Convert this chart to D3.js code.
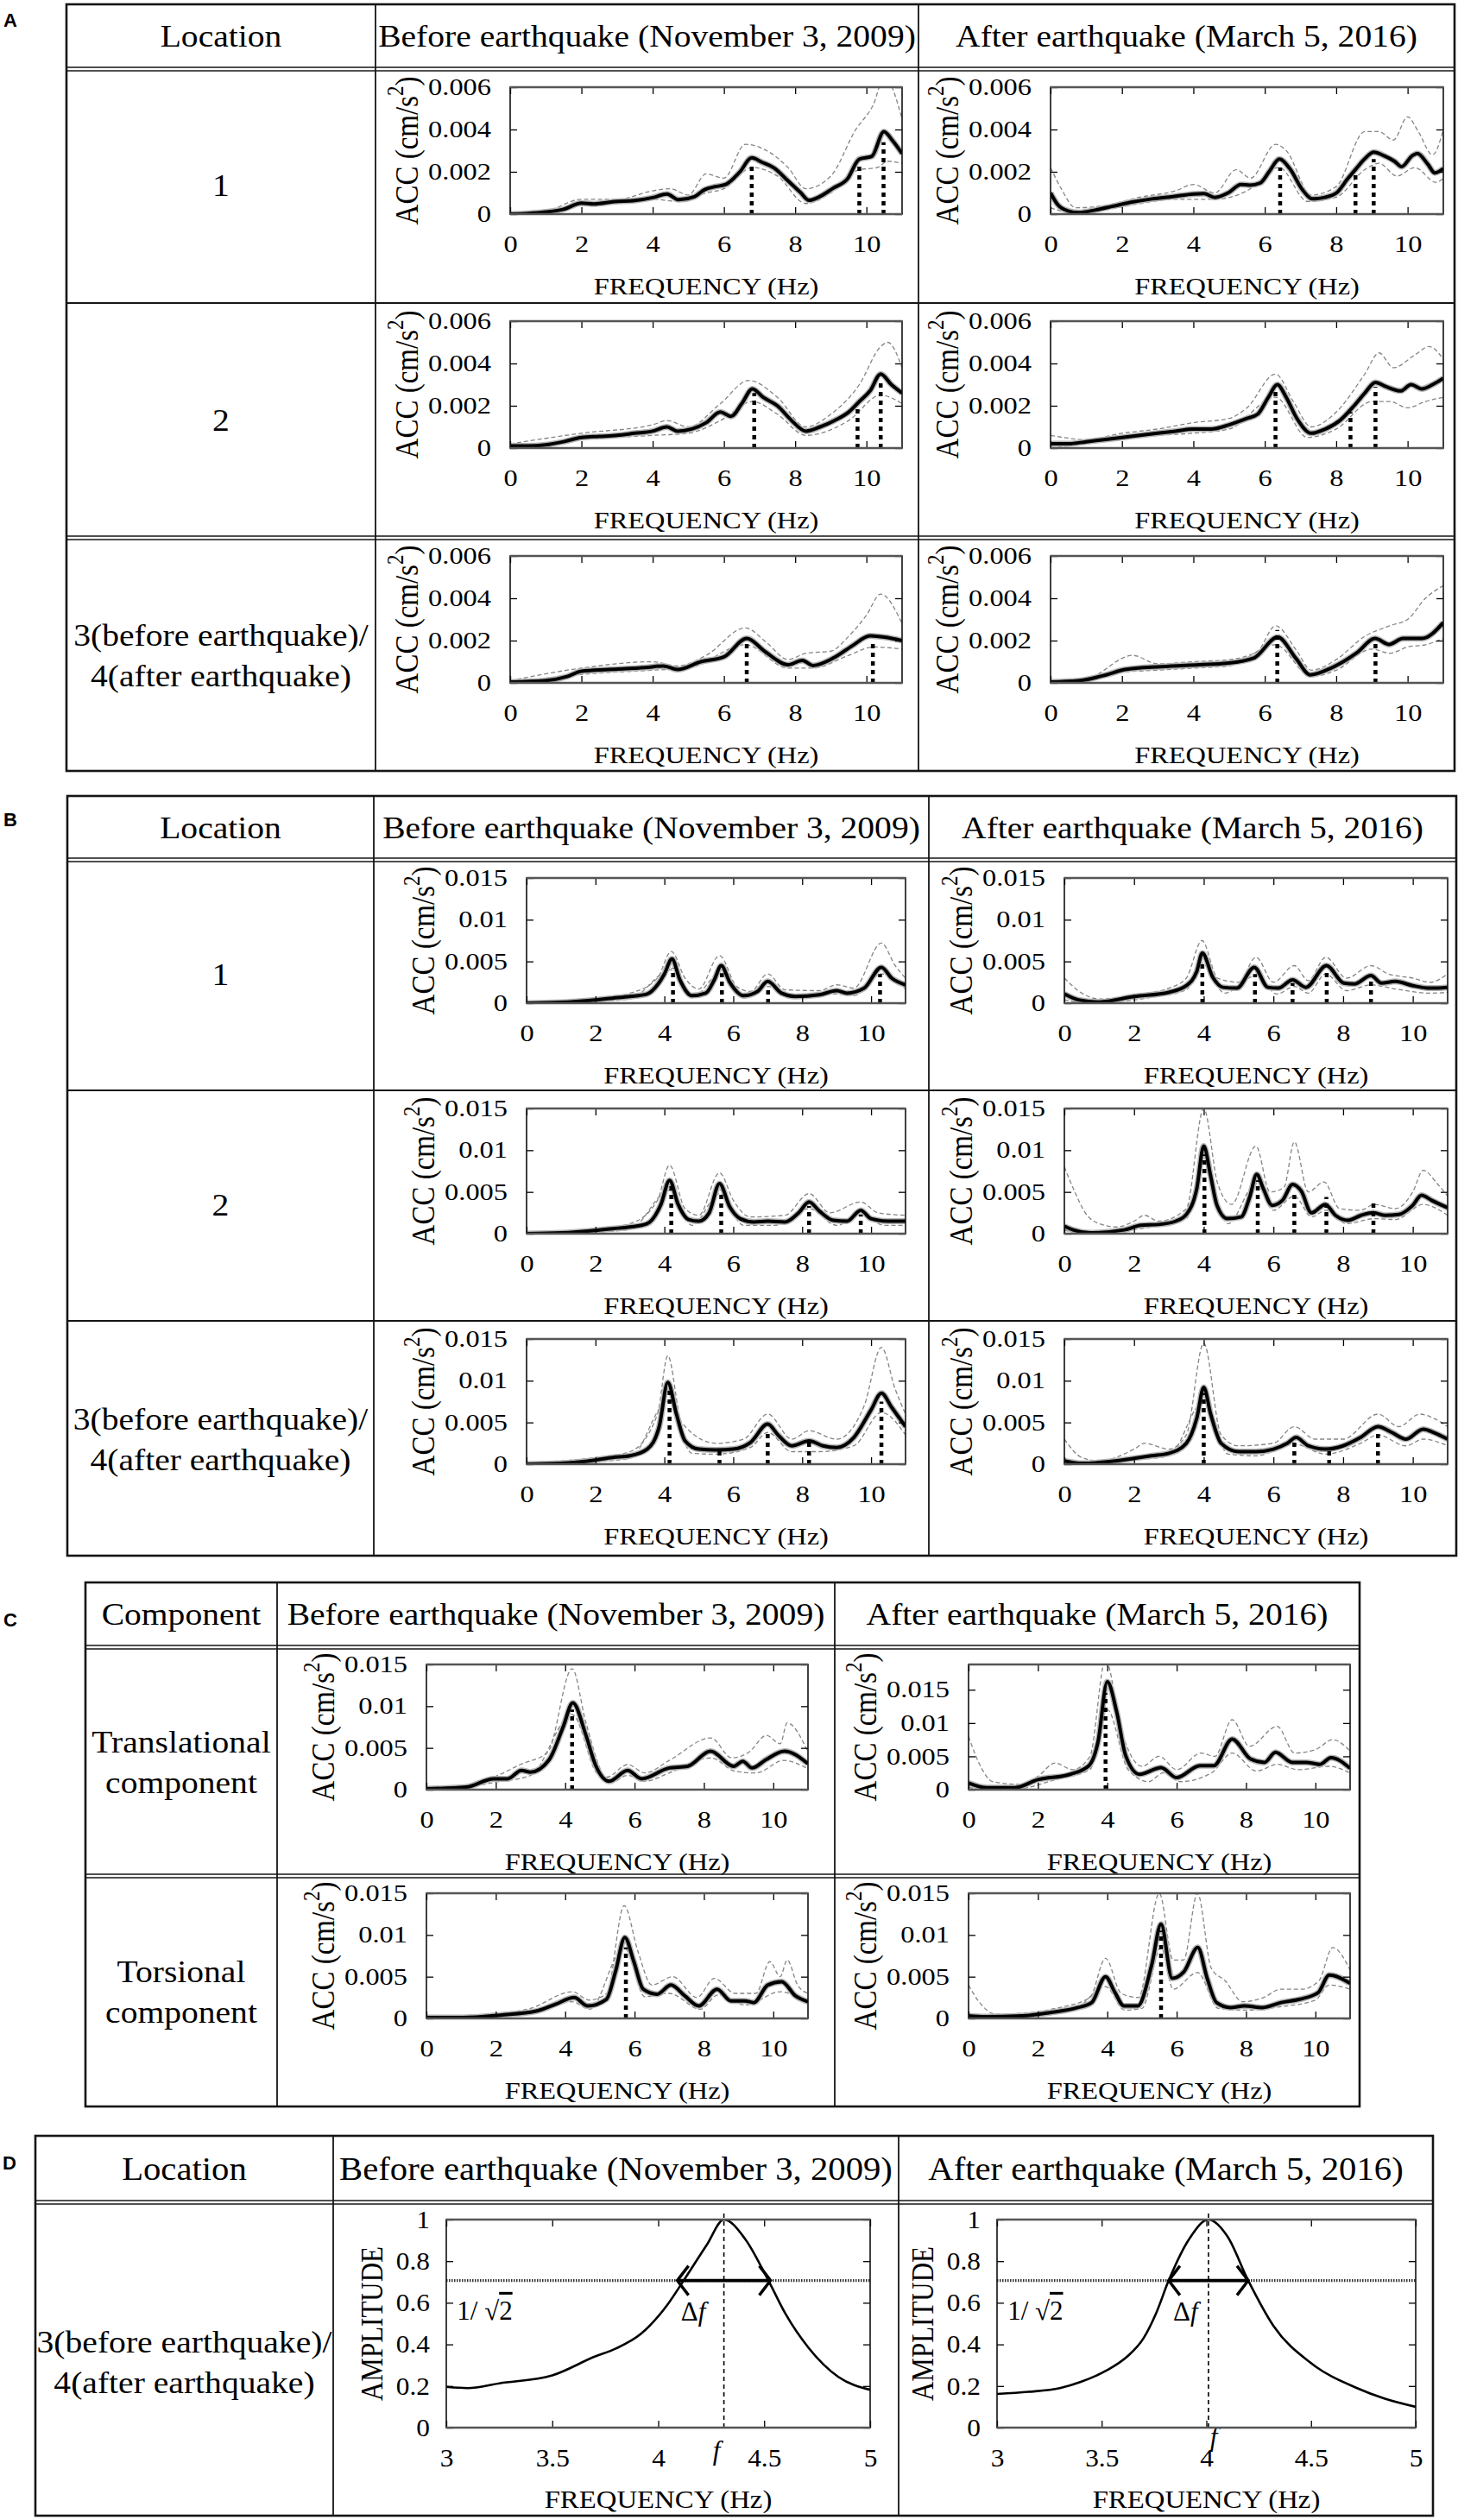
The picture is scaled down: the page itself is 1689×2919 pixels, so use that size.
<!DOCTYPE html>
<html><head><meta charset="utf-8">
<script src="https://cdn.jsdelivr.net/npm/d3@7"></script>
<style>body{margin:0;background:#fff}svg{display:block}</style>
</head><body>
<script>
// ---------- text ----------
const COL_HEADERS = ["Before earthquake (November 3, 2009)", "After earthquake (March 5, 2016)"];
const LOCATION_HEADER = "Location";
const COMPONENT_HEADER = "Component";
const ROW_LABELS_AB = [["1"], ["2"], ["3(before earthquake)/", "4(after earthquake)"]];
const ROW_LABELS_C = [["Translational", "component"], ["Torsional", "component"]];
const ROW_LABELS_D = [["3(before earthquake)/", "4(after earthquake)"]];
const X_TITLE = "FREQUENCY (Hz)";
const AMP_TITLE = "AMPLITUDE";

// ---------- ticks ----------
const FREQ_TICKS = [0, 2, 4, 6, 8, 10];
const FREQ_TICK_LABELS = ["0", "2", "4", "6", "8", "10"];
const ACC_A_TICKS = [0, 0.002, 0.004, 0.006];
const ACC_A_LABELS = ["0", "0.002", "0.004", "0.006"];
const ACC_B_TICKS = [0, 0.005, 0.01, 0.015];
const ACC_B_LABELS = ["0", "0.005", "0.01", "0.015"];
const AMP_TICKS = [0, 0.2, 0.4, 0.6, 0.8, 1];
const AMP_LABELS = ["0", "0.2", "0.4", "0.6", "0.8", "1"];
const AMP_F_TICKS = [3, 3.5, 4, 4.5, 5];
const AMP_F_LABELS = ["3", "3.5", "4", "4.5", "5"];

// ---------- Panel A : mean spectra, grey envelope (upper / lower), identified peaks ----------
const a1bMean = [[0,0],[0.5,0.00003],[1,0.0001],[1.5,0.00023],[2,0.00052],[2.35,0.00048],[2.93,0.00059],[3.5,0.00064],[4,0.00078],[4.4,0.00095],[4.73,0.00068],[5.17,0.00082],[5.46,0.00116],[5.76,0.0013],[6.05,0.0014],[6.44,0.00198],[6.78,0.00266],[7.07,0.00245],[7.41,0.00218],[7.8,0.00157],[8.15,0.00102],[8.39,0.00065],[8.68,0.00082],[9.07,0.00123],[9.46,0.00165],[9.8,0.0026],[10.15,0.00273],[10.49,0.0039],[10.73,0.00348],[11,0.00286]];
const a1bHi = [[0,0.00005],[1,0.00015],[2,0.0007],[3,0.0007],[4,0.0011],[4.5,0.0012],[5,0.0009],[5.5,0.0019],[6,0.0017],[6.6,0.0033],[7.2,0.003],[7.8,0.0022],[8.3,0.0012],[9,0.0018],[9.7,0.004],[10.2,0.0052],[10.5,0.0065],[11,0.0045]];
const a1bLo = [[0,0],[1,0.00005],[2,0.0004],[3,0.0005],[4,0.0007],[4.7,0.0006],[5.5,0.001],[6,0.0012],[6.8,0.0022],[7.5,0.0018],[8.3,0.0005],[9,0.001],[9.8,0.0021],[10.3,0.0022],[10.6,0.0025],[11,0.0024]];
const a1bPeaks = [[6.78,0.0024],[9.8,0.00225],[10.48,0.0034]];

const a1aMean = [[0,0.001],[0.2,0.00045],[0.49,0.00015],[0.78,0.00007],[1.27,0.0002],[1.76,0.00038],[2.25,0.00056],[2.84,0.00072],[3.42,0.00083],[4.01,0.00095],[4.3,0.00097],[4.6,0.00079],[4.99,0.00102],[5.33,0.0014],[5.58,0.00137],[5.87,0.00147],[6.12,0.002],[6.41,0.0026],[6.7,0.00215],[7.05,0.00116],[7.34,0.00072],[7.68,0.00079],[8.02,0.00102],[8.32,0.00167],[8.56,0.00215],[8.81,0.00263],[9.05,0.00293],[9.34,0.00276],[9.64,0.00249],[9.83,0.00224],[10.13,0.00276],[10.27,0.00287],[10.57,0.00235],[10.76,0.00195],[11,0.00215]];
const a1aHi = [[0,0.0022],[0.3,0.0012],[0.7,0.0003],[1.5,0.0004],[2.5,0.0008],[3.5,0.0011],[4,0.0014],[4.6,0.001],[5.2,0.0021],[5.6,0.0017],[6.3,0.0033],[6.6,0.003],[7.3,0.0009],[8,0.0013],[8.8,0.0039],[9.2,0.0039],[9.6,0.0035],[10,0.0046],[10.3,0.0039],[10.7,0.0028],[11,0.004]];
const a1aLo = [[0,0.0003],[0.5,0.0001],[1.5,0.0002],[2.5,0.0005],[3.5,0.0007],[4.6,0.0007],[5.5,0.0011],[6.4,0.0022],[7.2,0.0006],[8,0.0008],[8.8,0.0021],[9.2,0.0024],[9.7,0.0018],[10.2,0.0022],[10.8,0.0015],[11,0.0017]];
const a1aPeaks = [[6.43,0.0022],[8.54,0.002],[9.05,0.0026]];

const a2bMean = [[0,0.0001],[0.5,0.0001],[1,0.00015],[1.5,0.0003],[2,0.0005],[2.5,0.00055],[3,0.0006],[3.5,0.0007],[4,0.0008],[4.4,0.001],[4.7,0.0008],[5.1,0.0009],[5.5,0.0012],[5.9,0.0017],[6.2,0.0015],[6.5,0.0021],[6.8,0.0028],[7.1,0.0024],[7.5,0.002],[7.9,0.0013],[8.3,0.0008],[8.7,0.001],[9.1,0.0013],[9.5,0.0017],[9.8,0.0022],[10.1,0.0027],[10.4,0.0035],[10.7,0.003],[11,0.0026]];
const a2bHi = [[0,0.0002],[2,0.0007],[4,0.0011],[4.4,0.0013],[5,0.001],[5.9,0.0021],[6.7,0.0032],[7.5,0.0024],[8.3,0.001],[9,0.0016],[9.8,0.003],[10.4,0.0048],[10.6,0.005],[11,0.0038]];
const a2bLo = [[0,0],[2,0.0004],[4,0.0006],[5,0.0007],[5.9,0.0013],[6.8,0.0022],[7.5,0.0016],[8.3,0.0006],[9.5,0.0013],[10.4,0.0025],[11,0.0021]];
const a2bPeaks = [[6.85,0.0026],[9.75,0.0019],[10.4,0.0032]];

const a2aMean = [[0,0.0002],[0.5,0.0002],[1,0.0003],[1.5,0.0004],[2,0.0005],[2.5,0.0006],[3,0.0007],[3.5,0.0008],[4,0.0009],[4.5,0.0009],[5,0.0011],[5.5,0.0014],[5.8,0.0016],[6.1,0.0024],[6.35,0.003],[6.6,0.0024],[6.9,0.0014],[7.3,0.0007],[7.7,0.0009],[8.1,0.0013],[8.5,0.002],[8.8,0.0026],[9.1,0.0031],[9.4,0.0029],[9.8,0.0027],[10.1,0.003],[10.4,0.0028],[10.7,0.003],[11,0.0033]];
const a2aHi = [[0,0.0006],[1,0.0004],[2,0.0007],[3,0.0009],[4,0.0012],[5,0.0014],[5.5,0.0019],[6.3,0.0035],[6.8,0.0022],[7.3,0.001],[8,0.0017],[8.8,0.0035],[9.2,0.0045],[9.6,0.0038],[10.2,0.0044],[10.6,0.0048],[11,0.0042]];
const a2aLo = [[0,0],[1,0.0002],[2,0.0004],[3,0.0006],[4,0.0007],[5,0.0009],[6.3,0.0024],[7.2,0.0005],[8,0.0009],[9,0.0022],[9.5,0.0022],[10,0.0019],[10.5,0.0022],[11,0.0024]];
const a2aPeaks = [[6.3,0.0028],[8.4,0.0017],[9.1,0.0029]];

const a3bMean = [[0,0.00004],[0.96,0.0001],[1.6,0.0003],[2,0.00055],[2.76,0.00063],[3.8,0.00072],[4.3,0.0008],[4.7,0.00063],[5.35,0.001],[6,0.00123],[6.64,0.0021],[7.16,0.00147],[7.8,0.00086],[8.2,0.00106],[8.5,0.00082],[9.1,0.0012],[9.6,0.00175],[10.1,0.00222],[10.5,0.00216],[11,0.002]];
const a3bHi = [[0,0.0001],[2,0.0007],[4,0.001],[4.7,0.0008],[5.5,0.0013],[6.6,0.0026],[7.2,0.0019],[7.8,0.0011],[8.3,0.0014],[9,0.0015],[9.5,0.0022],[10,0.0032],[10.4,0.0042],[11,0.0028]];
const a3bLo = [[0,0],[2,0.0004],[4,0.0006],[5,0.0007],[6.6,0.0018],[7.8,0.0007],[8.5,0.0007],[9.5,0.0013],[10.2,0.0017],[11,0.0016]];
const a3bPeaks = [[6.64,0.002],[10.18,0.002]];

const a3aMean = [[0,0.00004],[0.78,0.0001],[1.56,0.00038],[2.08,0.00063],[3.1,0.00077],[4.16,0.00086],[4.94,0.00093],[5.7,0.00118],[6.36,0.00216],[6.88,0.00114],[7.27,0.00038],[7.8,0.00066],[8.57,0.00141],[9.09,0.0021],[9.48,0.00182],[9.87,0.0021],[10.4,0.0021],[11,0.00285]];
const a3aHi = [[0,0.0001],[1,0.0002],[2.3,0.0013],[3,0.0009],[4,0.001],[5,0.0011],[5.8,0.0015],[6.3,0.0027],[6.9,0.0015],[7.3,0.0006],[8,0.0011],[8.8,0.0022],[9.5,0.0027],[10,0.003],[10.5,0.004],[11,0.0046]];
const a3aLo = [[0,0],[1,0.0001],[2,0.0005],[3,0.0006],[4,0.0007],[5,0.0008],[6.3,0.0018],[7.3,0.0003],[8,0.0006],[9,0.0016],[9.5,0.0014],[10,0.0017],[10.5,0.0018],[11,0.0021]];
const a3aPeaks = [[6.35,0.0025],[9.1,0.0019]];

// ---------- Panel B ----------
const b1bMean = [[0,0],[1,0.0001],[2,0.0004],[2.5,0.0006],[3,0.0008],[3.5,0.0011],[3.8,0.0022],[4.0,0.0035],[4.22,0.0053],[4.45,0.0028],[4.8,0.0009],[5.2,0.0012],[5.45,0.0028],[5.65,0.0045],[5.9,0.0025],[6.3,0.0009],[6.7,0.0014],[7.0,0.0026],[7.4,0.0012],[7.8,0.0008],[8.5,0.001],[9.0,0.0015],[9.3,0.0012],[9.8,0.0018],[10.3,0.0043],[10.6,0.003],[11,0.0022]];
const b1bHi = [[0,0.0002],[2,0.0006],[3,0.0012],[3.8,0.003],[4.2,0.0062],[4.6,0.003],[5,0.0017],[5.6,0.0057],[6.1,0.002],[6.5,0.0014],[7,0.0035],[7.5,0.0016],[8.5,0.0015],[9,0.0022],[9.5,0.0018],[10.3,0.0072],[10.7,0.0045],[11,0.003]];
const b1bLo = [[0,0],[2,0.0002],[3,0.0005],[4.2,0.004],[4.8,0.0006],[5.6,0.0035],[6.3,0.0006],[7,0.002],[7.8,0.0006],[9,0.0011],[9.5,0.0009],[10.3,0.0035],[11,0.0017]];
const b1bPeaks = [[4.25,0.0042],[5.67,0.0036],[7.01,0.002],[10.26,0.0035]];

const b1aMean = [[0,0.0011],[0.4,0.0004],[1,0.00014],[2,0.0008],[3,0.0013],[3.5,0.0021],[3.8,0.0038],[3.96,0.006],[4.26,0.0031],[4.55,0.0019],[4.95,0.0018],[5.45,0.0043],[5.84,0.0019],[6.14,0.0018],[6.55,0.0028],[6.93,0.0019],[7.52,0.0045],[8.02,0.0024],[8.32,0.0023],[8.8,0.0033],[9.1,0.0024],[9.5,0.0026],[10,0.0021],[10.5,0.0018],[11,0.0019]];
const b1aHi = [[0,0.003],[0.5,0.0012],[1,0.0005],[2,0.001],[3,0.0018],[3.5,0.003],[3.95,0.0075],[4.4,0.003],[5,0.0025],[5.5,0.0055],[6,0.0025],[6.6,0.0045],[7,0.0027],[7.5,0.0055],[8.1,0.003],[8.8,0.0045],[9.3,0.0035],[10,0.003],[10.5,0.0025],[11,0.0035]];
const b1aLo = [[0,0.0004],[0.5,0.0001],[1.5,0.0002],[2.5,0.0007],[3.5,0.0016],[3.95,0.0048],[4.6,0.0012],[5.5,0.0033],[6.1,0.0011],[6.6,0.002],[7,0.0012],[7.5,0.0035],[8.1,0.0015],[8.8,0.0022],[9.5,0.0017],[10.5,0.0012],[11,0.0013]];
const b1aPeaks = [[3.96,0.005],[5.47,0.0035],[6.55,0.0024],[7.53,0.004],[8.8,0.0028]];

const b2bMean = [[0,0],[1,0.0001],[2,0.0004],[2.5,0.0006],[3,0.0008],[3.5,0.0012],[3.9,0.0035],[4.15,0.0064],[4.4,0.0035],[4.7,0.0017],[5.0,0.0015],[5.3,0.0025],[5.6,0.006],[5.9,0.0032],[6.2,0.0018],[6.6,0.0014],[7,0.0015],[7.5,0.0014],[7.9,0.0025],[8.2,0.0038],[8.5,0.0027],[8.9,0.0016],[9.3,0.0015],[9.7,0.0028],[10,0.0018],[10.5,0.0015],[11,0.0015]];
const b2bHi = [[0,0.0002],[2,0.0006],[3,0.0012],[3.8,0.004],[4.15,0.0082],[4.6,0.003],[5,0.0022],[5.6,0.0073],[6,0.004],[6.5,0.002],[7.5,0.0022],[8.2,0.0048],[8.8,0.0025],[9.7,0.0038],[10.2,0.0025],[11,0.0022]];
const b2bLo = [[0,0],[2,0.0002],[3,0.0005],[4.15,0.0052],[4.8,0.001],[5.6,0.0048],[6.3,0.001],[7.2,0.001],[8.2,0.003],[9,0.001],[9.7,0.0021],[10.4,0.001],[11,0.001]];
const b2bPeaks = [[4.2,0.0058],[5.65,0.0052],[8.2,0.0033],[9.7,0.0023]];

const b2aMean = [[0,0.0009],[0.25,0.00045],[0.74,0.0001],[1.72,0.00045],[2.2,0.001],[2.7,0.0011],[3.2,0.0015],[3.5,0.0023],[3.8,0.0054],[4.0,0.0105],[4.19,0.0071],[4.38,0.0034],[4.68,0.0018],[5.07,0.002],[5.32,0.0044],[5.52,0.0071],[5.71,0.0054],[5.96,0.0034],[6.26,0.004],[6.55,0.0059],[6.8,0.0051],[7.09,0.0025],[7.49,0.0035],[7.78,0.0022],[8.13,0.0016],[8.52,0.0022],[8.87,0.0025],[9.21,0.0022],[9.6,0.0023],[10.0,0.0034],[10.25,0.0046],[10.54,0.004],[11,0.0031]];
const b2aHi = [[0,0.008],[0.3,0.005],[0.6,0.0025],[1,0.0012],[1.5,0.0008],[2,0.0015],[2.3,0.0022],[2.7,0.0015],[3.5,0.003],[4.0,0.015],[4.4,0.006],[4.8,0.0035],[5.5,0.0105],[5.9,0.005],[6.3,0.0055],[6.6,0.011],[7,0.005],[7.45,0.0062],[7.9,0.003],[8.5,0.0028],[8.9,0.0035],[9.5,0.003],[10,0.005],[10.3,0.0076],[10.7,0.006],[11,0.0045]];
const b2aLo = [[0,0.0004],[0.5,0.0001],[1.5,0.0003],[2.5,0.0008],[3.5,0.0018],[4.0,0.0085],[4.7,0.0012],[5.5,0.006],[6,0.0028],[6.6,0.0045],[7.1,0.002],[7.5,0.0028],[8.1,0.0012],[8.9,0.0018],[9.5,0.0017],[10.3,0.0035],[11,0.0022]];
const b2aPeaks = [[4.02,0.0095],[5.55,0.0064],[6.6,0.0051],[7.52,0.0044],[8.87,0.0039]];

const b3bMean = [[0,0],[1,0.0001],[2,0.0005],[2.5,0.0008],[3,0.001],[3.5,0.0018],[3.85,0.0045],[4.1,0.0098],[4.35,0.006],[4.6,0.0028],[5,0.0018],[5.5,0.0017],[6,0.0018],[6.5,0.0026],[7,0.0048],[7.3,0.0035],[7.7,0.0022],[8.2,0.0028],[8.6,0.0022],[9,0.002],[9.5,0.0032],[10,0.0065],[10.3,0.0085],[10.6,0.0068],[11,0.0045]];
const b3bHi = [[0,0.0002],[2,0.0008],[3,0.0015],[3.8,0.006],[4.1,0.013],[4.5,0.005],[5.5,0.0025],[6.3,0.003],[7,0.006],[7.7,0.003],[8.2,0.004],[9,0.003],[9.8,0.007],[10.3,0.014],[10.7,0.009],[11,0.006]];
const b3bLo = [[0,0],[2,0.0003],[3,0.0007],[4.1,0.0075],[4.8,0.0013],[5.5,0.0012],[6.5,0.002],[7,0.0038],[7.7,0.0015],[8.5,0.0015],[9.5,0.0022],[10.3,0.0062],[11,0.0035]];
const b3bPeaks = [[4.15,0.009],[5.6,0.0016],[7.0,0.004],[8.2,0.0026],[10.3,0.0075]];

const b3aMean = [[0,0.0004],[0.5,0.0001],[1,0.0002],[2,0.0007],[2.5,0.001],[3,0.0013],[3.5,0.0025],[3.8,0.0055],[4.0,0.0092],[4.2,0.006],[4.5,0.0025],[5,0.0015],[5.5,0.0015],[6,0.0018],[6.4,0.0025],[6.65,0.0032],[7,0.0022],[7.5,0.0018],[8,0.0022],[8.5,0.0032],[9,0.0045],[9.4,0.0038],[9.8,0.003],[10.3,0.0042],[10.6,0.0038],[11,0.003]];
const b3aHi = [[0,0.003],[0.5,0.0008],[1,0.0004],[2,0.0018],[2.3,0.0025],[3,0.0018],[3.5,0.0035],[4.0,0.0145],[4.5,0.0035],[5,0.0022],[6,0.0025],[6.6,0.0045],[7.2,0.003],[8,0.003],[9,0.006],[9.6,0.0045],[10.2,0.006],[10.6,0.0055],[11,0.0045]];
const b3aLo = [[0,0.0001],[1,0.0001],[2,0.0005],[3,0.001],[4,0.0075],[4.7,0.0012],[5.5,0.001],[6.6,0.0024],[7.5,0.0012],[8.5,0.0025],[9,0.0035],[9.8,0.0022],[10.3,0.003],[11,0.0022]];
const b3aPeaks = [[4.0,0.0085],[6.6,0.0028],[7.6,0.0016],[9.0,0.004]];

// ---------- Panel C ----------
const c1bMean = [[0,0.0001],[1.14,0.0003],[1.94,0.0013],[2.34,0.0013],[2.74,0.0023],[3.0,0.0021],[3.54,0.0036],[3.94,0.0075],[4.22,0.0104],[4.6,0.0065],[4.87,0.003],[5.27,0.001],[5.8,0.0023],[6.2,0.0013],[7.0,0.0026],[7.53,0.0028],[8.19,0.0046],[8.86,0.0028],[9.12,0.0034],[9.39,0.0026],[9.79,0.0036],[10.32,0.0046],[11,0.0031]];
const c1bHi = [[0,0.0002],[1,0.0004],[2,0.0016],[2.7,0.003],[3.5,0.0045],[4.2,0.0145],[4.6,0.008],[5.2,0.0015],[5.8,0.003],[6.3,0.002],[7,0.0035],[8.2,0.0062],[8.8,0.0038],[9.3,0.0045],[9.8,0.0065],[10.2,0.0055],[10.4,0.008],[11,0.0045]];
const c1bLo = [[0,0],[1,0.0002],[2,0.0009],[3,0.0017],[4.2,0.009],[4.9,0.002],[5.3,0.0008],[5.8,0.0017],[6.3,0.001],[7,0.002],[8.2,0.0038],[8.9,0.0022],[9.5,0.002],[10.3,0.0035],[11,0.0025]];
const c1bPeaks = [[4.2,0.0096]];

const c1aMean = [[0,0.001],[0.53,0.0003],[1.33,0.0003],[2.0,0.0015],[2.93,0.0023],[3.47,0.0036],[3.73,0.0071],[4.0,0.0162],[4.27,0.0117],[4.53,0.0051],[4.93,0.0023],[5.55,0.0033],[6.0,0.0018],[6.67,0.0036],[7.07,0.0036],[7.6,0.0076],[8.13,0.0046],[8.53,0.0041],[8.85,0.0056],[9.33,0.0041],[9.73,0.0041],[10.13,0.0038],[10.45,0.0048],[11,0.0032]];
const c1aHi = [[0,0.008],[0.3,0.004],[0.7,0.0012],[1.5,0.0008],[2,0.002],[2.5,0.004],[3,0.003],[3.5,0.005],[3.95,0.0195],[4.4,0.009],[5,0.0035],[5.5,0.005],[6,0.003],[6.7,0.0055],[7.1,0.005],[7.6,0.0105],[8.1,0.0065],[8.9,0.0095],[9.4,0.0055],[10,0.006],[10.5,0.0075],[11,0.0058]];
const c1aLo = [[0,0.0003],[0.5,0.0001],[1.5,0.0002],[2.5,0.0015],[3.5,0.003],[4,0.012],[4.6,0.003],[5.2,0.0012],[5.6,0.0025],[6.1,0.0012],[7,0.0025],[7.6,0.0055],[8.3,0.0028],[8.9,0.0038],[9.5,0.003],[10.4,0.0035],[11,0.0025]];
const c1aPeaks = [[3.95,0.0145]];

const c2bMean = [[0,0.0001],[1.06,0.0001],[2.13,0.0004],[3.19,0.0009],[3.72,0.0017],[4.26,0.0025],[4.65,0.0015],[5.19,0.0023],[5.45,0.0056],[5.72,0.0097],[5.98,0.0068],[6.25,0.0035],[6.65,0.0029],[7.05,0.004],[7.45,0.0027],[7.85,0.0015],[8.38,0.0035],[8.78,0.0021],[9.18,0.0021],[9.44,0.0019],[9.84,0.004],[10.24,0.0044],[10.64,0.0027],[11,0.002]];
const c2bHi = [[0,0.0002],[2,0.0006],[3,0.0012],[4.2,0.0032],[4.7,0.0022],[5.2,0.003],[5.7,0.0135],[6.1,0.008],[6.5,0.004],[7.1,0.005],[7.8,0.0025],[8.3,0.0048],[8.9,0.003],[9.5,0.003],[9.9,0.0068],[10.2,0.005],[10.4,0.007],[10.7,0.004],[11,0.003]];
const c2bLo = [[0,0],[2,0.0002],[3,0.0006],[4.2,0.002],[4.7,0.0011],[5.7,0.0085],[6.3,0.0026],[7,0.003],[7.9,0.0011],[8.4,0.0028],[9.2,0.0016],[10.2,0.0032],[11,0.0017]];
const c2bPeaks = [[5.75,0.0085]];

const c2aMean = [[0,0.0003],[0.48,0.0002],[1.55,0.0003],[2.35,0.0007],[3.15,0.0013],[3.55,0.0019],[3.95,0.005],[4.21,0.0032],[4.48,0.0015],[4.88,0.0015],[5.28,0.0064],[5.55,0.0113],[5.87,0.0048],[6.21,0.0056],[6.61,0.0085],[6.88,0.0048],[7.15,0.0019],[7.55,0.0013],[7.95,0.0015],[8.48,0.0013],[9.01,0.0019],[9.55,0.0023],[10.08,0.0031],[10.4,0.0052],[11,0.0042]];
const c2aHi = [[0,0.004],[0.3,0.002],[0.8,0.0005],[1.5,0.0006],[2.5,0.0012],[3.5,0.0025],[3.95,0.0072],[4.4,0.003],[4.9,0.0025],[5.5,0.015],[5.9,0.007],[6.2,0.007],[6.6,0.015],[7,0.006],[7.4,0.0045],[7.9,0.002],[8.5,0.0025],[9,0.0035],[9.6,0.0035],[10.1,0.0045],[10.5,0.0085],[11,0.0058]];
const c2aLo = [[0,0.0001],[1,0.0001],[2,0.0004],[3,0.0009],[3.95,0.0038],[4.5,0.001],[5,0.0012],[5.55,0.0085],[5.9,0.0035],[6.6,0.0055],[7.2,0.0012],[8,0.001],[9,0.0014],[10,0.0022],[10.4,0.004],[11,0.0035]];
const c2aPeaks = [[5.55,0.0105]];

// ---------- Panel D : normalised amplitude around the first mode ----------
const dBeforeAmp = [[3.0,0.196],[3.1,0.19],[3.25,0.213],[3.5,0.251],[3.7,0.341],[3.8,0.38],[3.92,0.452],[4.05,0.6],[4.12,0.707],[4.23,0.88],[4.31,1.0],[4.41,0.907],[4.52,0.707],[4.6,0.548],[4.71,0.383],[4.85,0.244],[5.0,0.182]];
const dAfterAmp = [[3.0,0.162],[3.15,0.172],[3.3,0.19],[3.4,0.22],[3.52,0.273],[3.62,0.34],[3.7,0.43],[3.76,0.55],[3.82,0.707],[3.92,0.91],[4.01,1.0],[4.1,0.92],[4.2,0.707],[4.32,0.49],[4.5,0.31],[4.72,0.19],[4.85,0.14],[5.0,0.10]];
const HALF_POWER = 0.707;
const dPeakFreq = [4.31, 4.01];
const dBandwidth = [[4.09, 4.53], [3.82, 4.2]];

// =====================================================================
const SERIF = '"Liberation Serif","Times New Roman",Times,serif';
const SANS = '"Liberation Sans",Arial,Helvetica,sans-serif';
const INK = "#000";
const svg = d3.select("body").append("svg").attr("width", 1689).attr("height", 2919)
  .attr("font-family", SERIF).style("background", "#fff");
let clipN = 0;

function stretchText(sel, s) {
  sel.each(function () {
    const L = this.getComputedTextLength();
    if (L > 0 && s !== 1) {
      this.setAttribute("textLength", (L * s).toFixed(1));
      this.setAttribute("lengthAdjust", "spacingAndGlyphs");
    }
  });
}
function label(x, y, str, fs, sx) {
  const t = svg.append("text").attr("x", x).attr("y", y).attr("text-anchor", "middle")
    .attr("dominant-baseline", "central").attr("font-size", fs).style("font-family", SERIF)
    .attr("fill", INK).text(str);
  stretchText(t, sx);
  return t;
}
function panelLetter(ch, x, y) {
  svg.append("text").attr("x", x).attr("y", y).style("font-family", SANS).attr("font-weight", "bold")
    .attr("font-size", 22).text(ch);
}
function table(cols, rows, dbl) {
  const g = svg.append("g").attr("stroke", "#151515").attr("fill", "none");
  const x0 = cols[0], x1 = cols[cols.length - 1], y0 = rows[0], y1 = rows[rows.length - 1];
  g.append("rect").attr("x", x0).attr("y", y0).attr("width", x1 - x0).attr("height", y1 - y0).attr("stroke-width", 2.6);
  cols.slice(1, -1).forEach(c => g.append("line").attr("x1", c).attr("x2", c).attr("y1", y0).attr("y2", y1).attr("stroke-width", 1.8));
  rows.slice(1, -1).forEach((r, i) => {
    if (dbl[i]) [-2, 2].forEach(o => g.append("line").attr("x1", x0).attr("x2", x1).attr("y1", r + o).attr("y2", r + o).attr("stroke-width", 1.5));
    else g.append("line").attr("x1", x0).attr("x2", x1).attr("y1", r).attr("y2", r).attr("stroke-width", 2);
  });
}

function plot(p) {
  const x = d3.scaleLinear().domain(p.xd).range([p.left, p.left + p.w]);
  const y = d3.scaleLinear().domain(p.yd).range([p.top + p.h, p.top]);
  const g = svg.append("g");
  const id = "clip" + (clipN++);
  g.append("clipPath").attr("id", id).append("rect").attr("x", p.left).attr("y", p.top - 1).attr("width", p.w).attr("height", p.h + 2);
  const line = d3.line().x(d => x(d[0])).y(d => y(d[1])).curve(d3.curveMonotoneX);
  const dg = g.append("g").attr("clip-path", `url(#${id})`);
  (p.grey || []).forEach(s => dg.append("path").attr("d", line(s)).attr("fill", "none")
    .attr("stroke", "#858585").attr("stroke-width", 1.3).attr("stroke-dasharray", "5,3"));
  if (p.extra) p.extra(g, x, y);
  if (p.halo) dg.append("path").attr("d", line(p.mean)).attr("fill", "none").attr("stroke", "#b5b5b5")
    .attr("stroke-width", 7).attr("stroke-linejoin", "round");
  dg.append("path").attr("d", line(p.mean)).attr("fill", "none").attr("stroke", INK)
    .attr("stroke-width", p.mw || 4).attr("stroke-linejoin", "round");
  if (p.peaks) g.append("g").selectAll("line").data(p.peaks).join("line")
    .attr("x1", d => x(d[0])).attr("x2", d => x(d[0])).attr("y1", y(0)).attr("y2", d => y(d[1]))
    .attr("stroke", INK).attr("stroke-width", 4.5).attr("stroke-dasharray", "5,5");

  const styleAxis = (a, withText) => {
    a.select(".domain").remove();
    a.attr("font-family", null).attr("font-size", p.fs);
    a.selectAll(".tick line").attr("stroke-width", 1.3);
    if (withText) {
      a.selectAll("text").attr("fill", INK).style("font-family", SERIF);
      stretchText(a.selectAll("text"), p.sx);
    }
  };
  const bx = g.append("g").attr("transform", `translate(0,${p.top + p.h})`)
    .call(d3.axisBottom(x).tickValues(p.xt).tickFormat((d, i) => p.xtl[i]).tickSizeInner(-8).tickSizeOuter(0).tickPadding(p.xpad || 25));
  styleAxis(bx, true);
  const tx = g.append("g").attr("transform", `translate(0,${p.top})`)
    .call(d3.axisTop(x).tickValues(p.xt).tickFormat("").tickSizeInner(-8).tickSizeOuter(0));
  styleAxis(tx, false);
  const ly = g.append("g").attr("transform", `translate(${p.left},0)`)
    .call(d3.axisLeft(y).tickValues(p.yt).tickFormat((d, i) => p.ytl[i]).tickSizeInner(-8).tickSizeOuter(0).tickPadding(p.ypad || 22));
  styleAxis(ly, true);
  const ry = g.append("g").attr("transform", `translate(${p.left + p.w},0)`)
    .call(d3.axisRight(y).tickValues(p.yt).tickFormat("").tickSizeInner(-8).tickSizeOuter(0));
  styleAxis(ry, false);

  g.append("rect").attr("x", p.left).attr("y", p.top).attr("width", p.w).attr("height", p.h)
    .attr("fill", "none").attr("stroke", "#111").attr("stroke-width", 1.6);
  [p.top, p.top + p.h].forEach(yy => g.append("line").attr("x1", p.left).attr("x2", p.left + p.w)
    .attr("y1", yy).attr("y2", yy).attr("stroke", "#555").attr("stroke-width", 2.6));

  // axis titles
  label(p.left + p.w / 2, p.top + p.h + (p.xtitleOff || 84), X_TITLE, p.fs, p.sx2 || p.sx);
  const t = g.append("text")
    .attr("transform", `translate(${p.left - (p.ylabOff || 120)},${p.top + p.h / 2}) rotate(-90) scale(1,1.15)`)
    .attr("text-anchor", "middle").attr("dominant-baseline", "central").attr("font-size", p.yfs || 33)
    .style("font-family", SERIF).attr("fill", INK);
  if (p.amp) t.text(AMP_TITLE);
  else {
    t.append("tspan").text("ACC (cm/s");
    t.append("tspan").attr("dy", -12).attr("font-size", 23).text("2");
    t.append("tspan").attr("dy", 12).text(")");
  }
  return { x, y, g };
}

// ---------- panels A, B, C ----------
const accPanels = [
  { letter: "A", ly: 31, cols: [77, 435, 1064, 1685], rows: [5, 80, 351, 623, 893], dbl: [true, false, true],
    head0: LOCATION_HEADER, rowLabels: ROW_LABELS_AB, topOff: 21, h: 147,
    bl: 591, bw: 454, al: 1217, aw: 455, yt: ACC_A_TICKS, ytl: ACC_A_LABELS,
    data: [[[a1bMean, a1bHi, a1bLo, a1bPeaks, 0.006], [a1aMean, a1aHi, a1aLo, a1aPeaks, 0.006]],
           [[a2bMean, a2bHi, a2bLo, a2bPeaks, 0.006], [a2aMean, a2aHi, a2aLo, a2aPeaks, 0.006]],
           [[a3bMean, a3bHi, a3bLo, a3bPeaks, 0.006], [a3aMean, a3aHi, a3aLo, a3aPeaks, 0.006]]] },
  { letter: "B", ly: 957, cols: [78, 433, 1076, 1687], rows: [922, 996, 1263, 1530, 1802], dbl: [true, false, false],
    head0: LOCATION_HEADER, rowLabels: ROW_LABELS_AB, topOff: 21, h: 145,
    bl: 610, bw: 439, al: 1233, aw: 444, yt: ACC_B_TICKS, ytl: ACC_B_LABELS,
    data: [[[b1bMean, b1bHi, b1bLo, b1bPeaks, 0.015], [b1aMean, b1aHi, b1aLo, b1aPeaks, 0.015]],
           [[b2bMean, b2bHi, b2bLo, b2bPeaks, 0.015], [b2aMean, b2aHi, b2aLo, b2aPeaks, 0.015]],
           [[b3bMean, b3bHi, b3bLo, b3bPeaks, 0.015], [b3aMean, b3aHi, b3aLo, b3aPeaks, 0.015]]] },
  { letter: "C", ly: 1884, cols: [99, 321, 967, 1575], rows: [1833, 1908, 2173, 2440], dbl: [true, true],
    head0: COMPONENT_HEADER, rowLabels: ROW_LABELS_C, topOff: 20, h: 145,
    bl: 494, bw: 442, al: 1122, aw: 442, yt: ACC_B_TICKS, ytl: ACC_B_LABELS,
    data: [[[c1bMean, c1bHi, c1bLo, c1bPeaks, 0.015], [c1aMean, c1aHi, c1aLo, c1aPeaks, 0.0188]],
           [[c2bMean, c2bHi, c2bLo, c2bPeaks, 0.015], [c2aMean, c2aHi, c2aLo, c2aPeaks, 0.015]]] }
];

accPanels.forEach(P => {
  panelLetter(P.letter, 4, P.ly);
  table(P.cols, P.rows, P.dbl);
  const hy = (P.rows[0] + P.rows[1]) / 2;
  label((P.cols[0] + P.cols[1]) / 2, hy, P.head0, 35, 1.13);
  label((P.cols[1] + P.cols[2]) / 2, hy, COL_HEADERS[0], 35, 1.13);
  label((P.cols[2] + P.cols[3]) / 2, hy, COL_HEADERS[1], 35, 1.13);
  P.data.forEach((rowData, r) => {
    const rt = P.rows[r + 1], rb = P.rows[r + 2], rc = (rt + rb) / 2;
    const lines = P.rowLabels[r];
    if (lines.length === 1) label((P.cols[0] + P.cols[1]) / 2, rc, lines[0], 35, 1.13);
    else { label((P.cols[0] + P.cols[1]) / 2, rc - 22, lines[0], 35, 1.13); label((P.cols[0] + P.cols[1]) / 2, rc + 25, lines[1], 35, 1.13); }
    rowData.forEach((d, c) => {
      const ymax = d[4];
      const yt = P.yt.filter(v => v <= ymax + 1e-9);
      plot({ left: c === 0 ? P.bl : P.al, w: c === 0 ? P.bw : P.aw, top: rt + P.topOff, h: P.h,
        xd: [0, 11], yd: [0, ymax], xt: FREQ_TICKS, xtl: FREQ_TICK_LABELS, yt: yt, ytl: P.ytl.slice(0, yt.length),
        mean: d[0], grey: [d[1], d[2]], peaks: d[3], fs: 27, sx: 1.2, halo: true });
    });
  });
});

// ---------- panel D ----------
(function () {
  const cols = [41, 386, 1041, 1660], rows = [2474, 2551, 2914];
  panelLetter("D", 3, 2513);
  table(cols, rows, [true]);
  const hy = (rows[0] + rows[1]) / 2;
  label((cols[0] + cols[1]) / 2, hy, LOCATION_HEADER, 37, 1.1);
  label((cols[1] + cols[2]) / 2, hy, COL_HEADERS[0], 37, 1.1);
  label((cols[2] + cols[3]) / 2, hy, COL_HEADERS[1], 37, 1.1);
  const rc = (rows[1] + rows[2]) / 2;
  label((cols[0] + cols[1]) / 2, rc - 20, ROW_LABELS_D[0][0], 36, 1.1);
  label((cols[0] + cols[1]) / 2, rc + 27, ROW_LABELS_D[0][1], 36, 1.1);

  const specs = [
    { left: 517, w: 491, amp: dBeforeAmp, fk: 0, fLab: [830, 2838], dfX: 4.165 },
    { left: 1155, w: 485, amp: dAfterAmp, fk: 1, fLab: [1406, 2822], dfX: 3.9 }
  ];
  specs.forEach(s => {
    plot({ left: s.left, w: s.w, top: 2571, h: 241, xd: [3, 5], yd: [0, 1], xt: AMP_F_TICKS, xtl: AMP_F_LABELS,
      yt: AMP_TICKS, ytl: AMP_LABELS, mean: s.amp, mw: 2.6, fs: 29, sx: 1.08, sx2: 1.13, amp: true,
      yfs: 31, ylabOff: 86, ypad: 19, xpad: 24, xtitleOff: 83,
      extra: (g, x, y) => {
        // half-power line
        g.append("line").attr("x1", x(3)).attr("x2", x(5)).attr("y1", y(HALF_POWER)).attr("y2", y(HALF_POWER))
          .attr("stroke", "#333").attr("stroke-width", 3.2).attr("stroke-dasharray", "1.5,1.5");
        // natural frequency line
        const fx = x(dPeakFreq[s.fk]);
        g.append("line").attr("x1", fx).attr("x2", fx).attr("y1", y(0)).attr("y2", y(1) - 8)
          .attr("stroke", INK).attr("stroke-width", 1.6).attr("stroke-dasharray", "5,4");
        // band-width arrow
        const [fa, fb] = dBandwidth[s.fk];
        const ya = y(HALF_POWER), xa = x(fa), xb = x(fb);
        g.append("line").attr("x1", xa).attr("x2", xb).attr("y1", ya).attr("y2", ya).attr("stroke", INK).attr("stroke-width", 3.6);
        g.append("path").attr("d", `M${xa + 13},${ya - 17}L${xa},${ya}L${xa + 13},${ya + 17}M${xb - 13},${ya - 17}L${xb},${ya}L${xb - 13},${ya + 17}`)
          .attr("fill", "none").attr("stroke", INK).attr("stroke-width", 3.4);
        // labels
        const r2 = g.append("text").attr("x", x(3.05)).attr("y", y(0.565)).attr("font-size", 31)
          .attr("dominant-baseline", "central").style("font-family", SERIF).attr("fill", INK);
        r2.append("tspan").text("1/ √");
        r2.append("tspan").attr("text-decoration", "overline").text("2");
        const df = g.append("text").attr("x", x(s.dfX)).attr("y", y(0.56)).attr("font-size", 31)
          .attr("text-anchor", "middle").attr("dominant-baseline", "central").style("font-family", SERIF).attr("fill", INK);
        df.append("tspan").text("Δ");
        df.append("tspan").attr("font-style", "italic").text("f");
        g.append("text").attr("x", s.fLab[0]).attr("y", s.fLab[1]).attr("font-size", 31).attr("font-style", "italic")
          .attr("text-anchor", "middle").attr("dominant-baseline", "central").style("font-family", SERIF)
          .attr("fill", INK).text("f");
      } });
  });
})();
</script>
</body></html>
